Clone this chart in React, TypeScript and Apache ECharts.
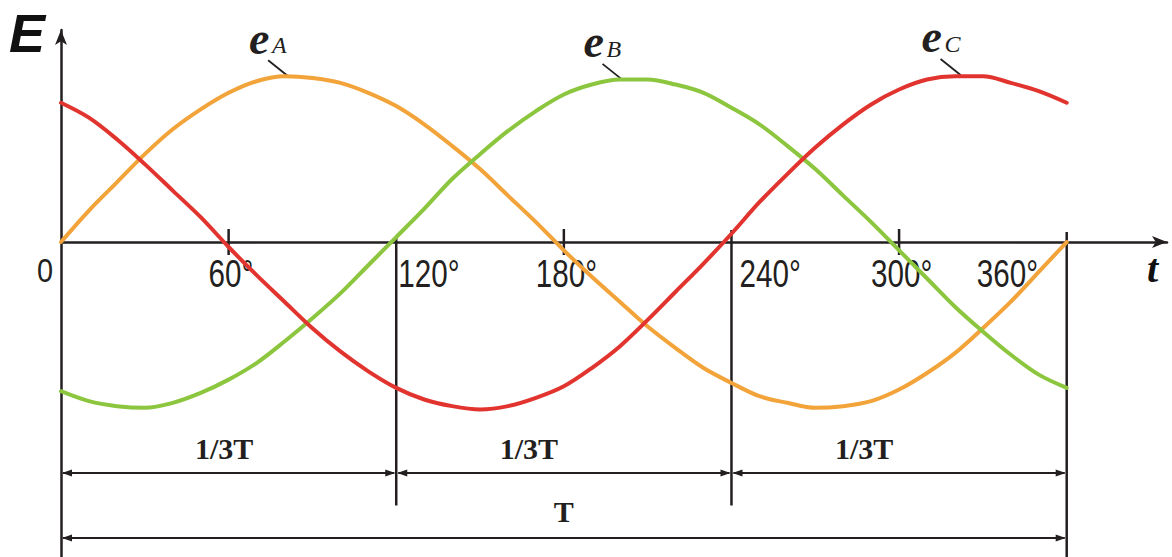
import React, { useEffect, useRef } from "react";
import * as echarts from "echarts";

// Electrical angle (degrees) at which each phase EMF is sampled
const degrees = [0, 10, 20, 30, 40, 50, 60, 70, 80, 90, 100, 110, 120, 130, 140, 150, 160, 170, 180, 190, 200, 210, 220, 230, 240, 250, 260, 270, 280, 290, 300, 310, 320, 330, 340, 350, 360];

// Phase EMFs in per-unit of the peak value
const eA = [0, 0.19, 0.36, 0.53, 0.68, 0.8, 0.9, 0.97, 1.0, 0.99, 0.96, 0.9, 0.82, 0.71, 0.58, 0.44, 0.28, 0.12, -0.05, -0.21, -0.36, -0.51, -0.64, -0.76, -0.85, -0.93, -0.97, -1.0, -0.99, -0.96, -0.89, -0.79, -0.67, -0.52, -0.36, -0.18, 0];
const eB = [-0.9, -0.96, -0.99, -1.0, -0.97, -0.91, -0.83, -0.73, -0.6, -0.46, -0.31, -0.14, 0.03, 0.2, 0.38, 0.53, 0.67, 0.79, 0.89, 0.95, 0.98, 0.98, 0.95, 0.9, 0.81, 0.71, 0.58, 0.44, 0.28, 0.12, -0.05, -0.22, -0.39, -0.54, -0.68, -0.8, -0.88];
const eC = [0.84, 0.75, 0.62, 0.47, 0.31, 0.15, -0.03, -0.2, -0.36, -0.52, -0.66, -0.78, -0.88, -0.95, -0.99, -1.01, -0.99, -0.94, -0.87, -0.76, -0.63, -0.47, -0.3, -0.13, 0.05, 0.24, 0.41, 0.57, 0.71, 0.83, 0.92, 0.98, 1.0, 1.0, 0.96, 0.91, 0.84];

// Degree tick labels along the time axis
const tickDegrees = [0, 60, 120, 180, 240, 300, 360];
const tickLabels = ["0", "60°", "120°", "180°", "240°", "300°", "360°"];

// Curve names (e with phase subscript)
const phaseNames = ["A", "B", "C"];

// Period dimensions: three one-third spans and the full period
const thirdSpans = [[0, 120], [120, 240], [240, 360]];
const thirdLabel = "1/3T";
const fullSpan = [0, 360];
const fullLabel = "T";

const INK = "#231f20";
const COLORS = ["#F2A33A", "#8CC63F", "#E2342F"];
const SANS = "'Liberation Sans', Arial, sans-serif";
const SERIF = "'Liberation Serif', 'Times New Roman', serif";

// Layout of the annotation layer (data units unless noted)
const LAYOUT = {
  thirdLevel: -1.3935,
  fullLevel: -1.7856,
  dividerBottom: -1.59,
  thirdLabelAt: [58.4, 167.5, 287.5],
  fullLabelAt: 180,
  nameAnchors: [[81.3, 1.0], [201, 0.978], [322, 1.008]],
};

// Placement of each tick label relative to its tick, in px: left edge offset
const TICK_LABEL_DX: Record<number, number> = {
  0: -24,
  60: -20,
  120: 2,
  180: -28,
  240: 8,
  300: -28,
  360: -90,
};

function arrowHead(x: number, y: number, dir: 1 | -1) {
  // dir = -1 points left, +1 points right; tip at (x, y)
  const len = 10;
  const half = 3.5;
  return {
    type: "polygon",
    shape: { points: [[x, y], [x - dir * len, y - half], [x - dir * len, y + half]] },
    style: { fill: INK },
    silent: true,
  };
}

function dimension(x1: number, x2: number, y: number) {
  return [
    { type: "line", shape: { x1: x1 + 2, y1: y, x2: x2 - 2, y2: y }, style: { stroke: INK, lineWidth: 2 }, silent: true },
    arrowHead(x1 + 1, y, -1),
    arrowHead(x2 - 1, y, 1),
  ];
}

function buildGraphic(chart: echarts.ECharts) {
  const px = (x: number, y: number) => chart.convertToPixel({ gridIndex: 0 }, [x, y]) as number[];
  const els: any[] = [];
  const [, y0] = px(0, 0);

  // small ticks at 60, 180, 300
  [60, 180, 300].forEach((d) => {
    const [x] = px(d, 0);
    els.push({ type: "line", shape: { x1: x, y1: y0 - 13, x2: x, y2: y0 + 13 }, style: { stroke: INK, lineWidth: 2.5 }, silent: true });
  });

  // degree labels under the time axis
  tickDegrees.forEach((d, i) => {
    const [x] = px(d, 0);
    const isZero = d === 0;
    els.push({
      type: "text",
      x: x + TICK_LABEL_DX[d],
      y: y0 + (isZero ? 28 : 31),
      scaleX: isZero ? 0.85 : 0.76,
      style: {
        text: tickLabels[i],
        x: 0,
        y: 0,
        fontSize: isZero ? 34 : 39,
        fontFamily: SANS,
        fill: INK,
        align: "left",
        verticalAlign: "middle",
      },
      silent: true,
    });
  });

  // vertical dividers at 120, 240 and 360
  const [x120, yDiv] = px(120, LAYOUT.dividerBottom);
  const [x240] = px(240, 0);
  const [x360] = px(360, 0);
  els.push({ type: "line", shape: { x1: x120, y1: y0 - 5, x2: x120, y2: yDiv }, style: { stroke: INK, lineWidth: 2.5 }, silent: true });
  els.push({ type: "line", shape: { x1: x240, y1: y0 - 12, x2: x240, y2: yDiv }, style: { stroke: INK, lineWidth: 2.5 }, silent: true });
  els.push({ type: "line", shape: { x1: x360, y1: y0 - 10, x2: x360, y2: 560 }, style: { stroke: INK, lineWidth: 2.5 }, silent: true });

  // one-third period dimensions
  const [, yThird] = px(0, LAYOUT.thirdLevel);
  thirdSpans.forEach(([a, b], i) => {
    const [xa] = px(a, 0);
    const [xb] = px(b, 0);
    els.push(...dimension(xa, xb, yThird));
    const [xl] = px(LAYOUT.thirdLabelAt[i], 0);
    els.push({
      type: "text",
      style: { text: thirdLabel, x: xl, y: yThird - 25, fontSize: 30, fontWeight: "bold", fontFamily: SERIF, fill: INK, align: "center", verticalAlign: "middle" },
      silent: true,
    });
  });

  // full period dimension
  const [, yFull] = px(0, LAYOUT.fullLevel);
  const [xf1] = px(fullSpan[0], 0);
  const [xf2] = px(fullSpan[1], 0);
  els.push(...dimension(xf1, xf2, yFull));
  const [xT] = px(LAYOUT.fullLabelAt, 0);
  els.push({
    type: "text",
    style: { text: fullLabel, x: xT, y: yFull - 27, fontSize: 30, fontWeight: "bold", fontFamily: SERIF, fill: INK, align: "center", verticalAlign: "middle" },
    silent: true,
  });

  // curve names with leader lines
  phaseNames.forEach((sub, i) => {
    const [ax, ay] = px(LAYOUT.nameAnchors[i][0], LAYOUT.nameAnchors[i][1]);
    els.push({ type: "line", shape: { x1: ax - 20, y1: ay - 16, x2: ax, y2: ay }, style: { stroke: INK, lineWidth: 1.8 }, silent: true });
    els.push({
      type: "text",
      style: { text: "e", x: ax - 39, y: ay - 38, fontSize: 46, fontWeight: "bold", fontStyle: "italic", fontFamily: SERIF, fill: INK, align: "left", verticalAlign: "middle" },
      silent: true,
    });
    els.push({
      type: "text",
      style: { text: sub, x: ax - 16, y: ay - 31, fontSize: 24, fontStyle: "italic", fontFamily: SERIF, fill: INK, align: "left", verticalAlign: "middle" },
      silent: true,
    });
  });

  // axis titles
  els.push({
    type: "text",
    style: { text: "E", x: 9, y: 33, fontSize: 54, fontWeight: "bold", fontStyle: "italic", fontFamily: SANS, fill: "#111", align: "left", verticalAlign: "middle" },
    silent: true,
  });
  els.push({
    type: "text",
    style: { text: "t", x: 1147, y: 268, fontSize: 40, fontWeight: "bold", fontStyle: "italic", fontFamily: SERIF, fill: "#111", align: "left", verticalAlign: "middle" },
    silent: true,
  });

  return els;
}

export default function App() {
  const ref = useRef<HTMLDivElement>(null);

  useEffect(() => {
    if (!ref.current) return;
    const chart = echarts.init(ref.current, null, { renderer: "svg" });
    const axisLineStyle = { color: INK, width: 2.5 };
    const series = [eA, eB, eC].map((vals, i) => ({
      type: "line",
      name: `e${phaseNames[i]}`,
      data: degrees.map((d, j) => [d, vals[j]]),
      smooth: 0.33,
      symbol: "none",
      lineStyle: { color: COLORS[i], width: 4, cap: "round", join: "round" },
      itemStyle: { color: COLORS[i] },
      z: 3,
    }));

    chart.setOption({
      animation: false,
      backgroundColor: "#ffffff",
      grid: { left: 61, right: 5, top: 30, bottom: 0, containLabel: false, outerBoundsMode: "none" },
      xAxis: {
        type: "value",
        min: 0,
        max: 395.9,
        interval: 60,
        axisLine: { show: true, onZero: true, symbol: ["none", "arrow"], symbolSize: [9, 15], lineStyle: axisLineStyle },
        axisTick: { show: false },
        splitLine: { show: false },
        axisLabel: { show: false },
      },
      yAxis: {
        type: "value",
        min: -1.9,
        max: 1.279,
        axisLine: { show: true, onZero: true, symbol: ["none", "arrow"], symbolSize: [9, 15], lineStyle: axisLineStyle },
        axisTick: { show: false },
        axisLabel: { show: false },
        splitLine: { show: false },
      },
      series,
    });
    chart.setOption({ graphic: buildGraphic(chart) });

    return () => chart.dispose();
  }, []);

  return (
    <div
      ref={ref}
      style={{ position: "absolute", left: 0, top: 0, width: 1172, height: 557, background: "#fff" }}
    />
  );
}
